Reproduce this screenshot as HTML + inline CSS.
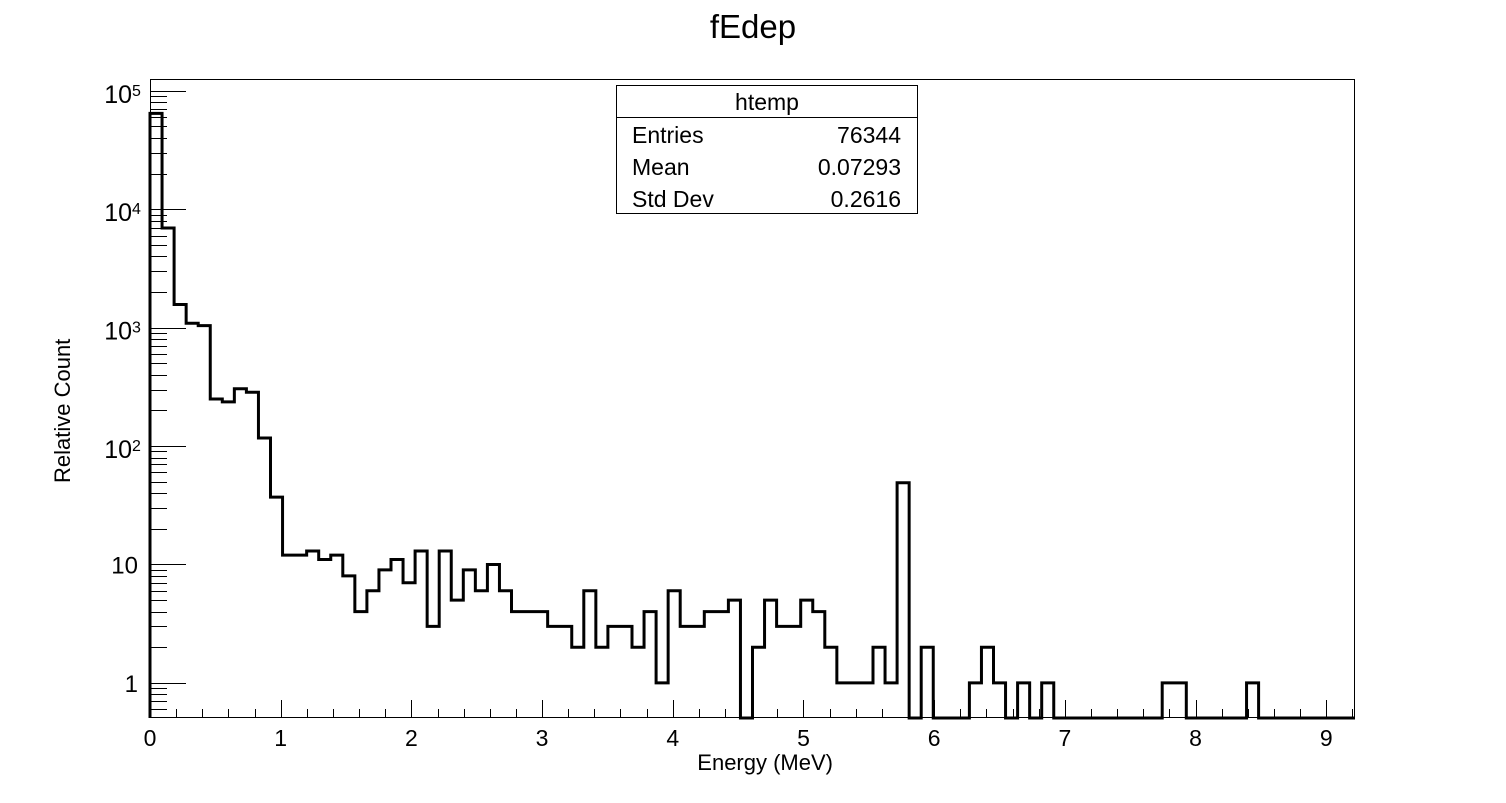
<!DOCTYPE html>
<html><head><meta charset="utf-8"><style>
body{margin:0;background:#fff;}
svg text{font-family:"Liberation Sans",sans-serif;fill:#000;}
</style></head><body>
<svg id="chart" width="1506" height="798" xmlns="http://www.w3.org/2000/svg">
<rect width="1506" height="798" fill="#fff"/>
<text x="753" y="38" font-size="33" text-anchor="middle">fEdep</text>
<g id="axes"></g>
<path id="hist" fill="none" stroke="#000" stroke-width="3"/>
<g>
<rect x="616.5" y="85.5" width="301" height="128" fill="#fff" stroke="#000" stroke-width="1"/>
<line x1="616.5" y1="117.5" x2="917.5" y2="117.5" stroke="#000"/>
<text x="767" y="110" font-size="23" text-anchor="middle">htemp</text>
<text x="632" y="143" font-size="23">Entries</text>
<text x="901" y="143" font-size="23" text-anchor="end">76344</text>
<text x="632" y="175" font-size="23">Mean</text>
<text x="901" y="175" font-size="23" text-anchor="end">0.07293</text>
<text x="632" y="207" font-size="23">Std Dev</text>
<text x="901" y="207" font-size="23" text-anchor="end">0.2616</text>
</g>
<text x="833" y="770" font-size="22" text-anchor="end">Energy (MeV)</text>
<text transform="translate(70,483) rotate(-90)" font-size="22">Relative Count</text>
</svg>
<script>
const binCounts = [64500,6950,1570,1090,1040,250,236,305,285,117,
37,12,12,13,11,12,8,4,6,9,
11,7,13,3,13,5,9,6,10,6,
4,4,4,3,3,2,6,2,3,3,
2,4,1,6,3,3,4,4,5,0,
2,5,3,3,5,4,2,1,1,1,
2,1,49,0,2,0,0,0,1,2,
1,0,1,0,1,0,0,0,0,0,
0,0,0,0,1,1,0,0,0,0,
0,1,0,0,0,0,0,0,0,0];
const xTickLabels = ["0","1","2","3","4","5","6","7","8","9"];
const yDecadeExps = [0,1,2,3,4,5];
const xMin = 0, xMax = 9.22, binWidth = 0.0922;
const yMin = 0.505, yMax = 10 ** 5.1;

const L=150,R=1355,T=79,B=718;
const sx = v => L + (v - xMin) / (xMax - xMin) * (R - L);
const sy = v => {
  const lv = Math.log10(Math.max(v, yMin));
  return B - (lv - Math.log10(yMin)) / (Math.log10(yMax) - Math.log10(yMin)) * (B - T);
};
const NS="http://www.w3.org/2000/svg";
const axes=document.getElementById('axes');
function line(x1,y1,x2,y2,w){const l=document.createElementNS(NS,'line');
l.setAttribute('x1',x1);l.setAttribute('y1',y1);l.setAttribute('x2',x2);l.setAttribute('y2',y2);
l.setAttribute('stroke','#000');l.setAttribute('stroke-width',w||1);axes.appendChild(l);return l;}
function text(x,y,s,anchor,size){const t=document.createElementNS(NS,'text');
t.setAttribute('x',x);t.setAttribute('y',y);t.setAttribute('text-anchor',anchor);t.setAttribute('font-size',size);
t.textContent=s;axes.appendChild(t);return t;}

const frame=document.createElementNS(NS,'rect');
frame.setAttribute('x',L+0.5);frame.setAttribute('y',T+0.5);frame.setAttribute('width',R-L-1);frame.setAttribute('height',B-T-1);
frame.setAttribute('fill','none');frame.setAttribute('stroke','#000');


axes.appendChild(frame);

for(let v=0; v<=xMax+1e-9; v+=0.2){
  const major=Math.abs(v-Math.round(v))<1e-6;
  const x=Math.round(sx(v))+0.5;
  const l=line(x,B,x,B-(major?18:9));
  
  
}
xTickLabels.forEach(s=>{
  const t=text(sx(+s),B+28,s,'middle',23);
  
  
});
for(let e=-1;e<=5;e++){
  for(let m=1;m<=9;m++){
    const v=m*10**e; if(v<yMin||v>yMax) continue;
    const y=Math.round(sy(v))+0.5;
    const l=line(L,y,L+(m===1?36:17),y);
    
    
  }
}
yDecadeExps.forEach(e=>{
  const y=sy(10**e);
  let t;
  if(e===0){t=text(L-12,y+9,"1",'end',24);}
  else if(e===1){t=text(L-12,y+9,"10",'end',24);}
  else{
    t=text(L-18,y+12,"10",'end',25);
    const s=text(L-18,y+5,String(e),'start',16);
    
    
  }
  
  
});
let d='M'+sx(0)+','+B;
binCounts.forEach((c,i)=>{
  const y=sy(c);
  d+=' L'+sx(i*binWidth)+','+y+' L'+sx((i+1)*binWidth)+','+y;
});
document.getElementById('hist').setAttribute('d',d);
</script>
</body></html>
